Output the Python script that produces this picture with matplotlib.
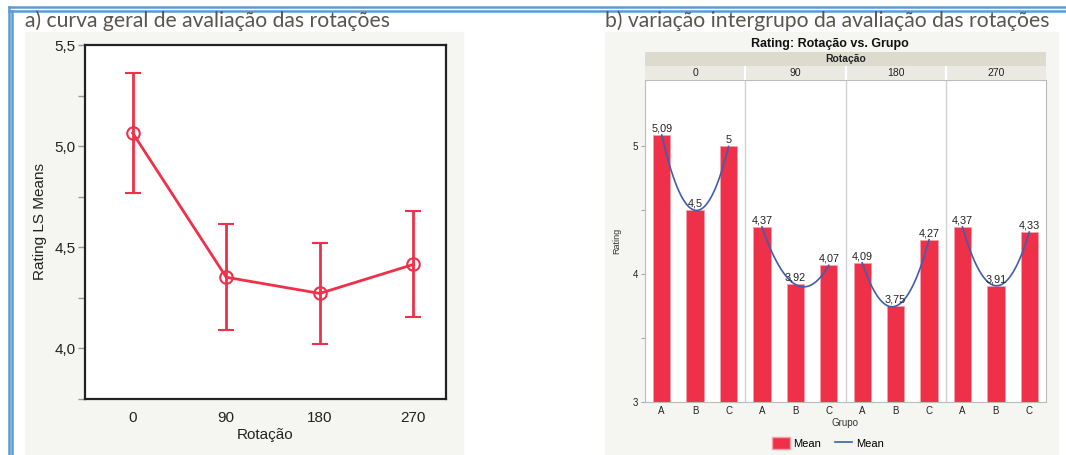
import numpy as np
import matplotlib
matplotlib.use("Agg")
import matplotlib.pyplot as plt
from matplotlib.patches import Rectangle, Patch
from matplotlib.lines import Line2D

# ---------------- data ----------------
rotations = ["0", "90", "180", "270"]
ls_means = [5.065, 4.352, 4.272, 4.415]
ci_half = [0.295, 0.262, 0.250, 0.262]

groups = ["A", "B", "C"]
group_means = {
    "0": [5.09, 4.5, 5.0],
    "90": [4.37, 3.92, 4.07],
    "180": [4.09, 3.75, 4.27],
    "270": [4.37, 3.91, 4.33],
}
group_labels = {
    "0": ["5,09", "4,5", "5"],
    "90": ["4,37", "3,92", "4,07"],
    "180": ["4,09", "3,75", "4,27"],
    "270": ["4,37", "3,91", "4,33"],
}

RED = "#ef3049"
BLUE = "#3d5fae"
BG = "#f5f5f1"
BORDER = "#5b9bd5"
TITLE_C = "#5a5550"
SANS = ["Liberation Sans", "DejaVu Sans"]

W, H = 1066, 455
fig = plt.figure(figsize=(W / 100, H / 100), dpi=100)
fig.patch.set_facecolor("white")

def fx(px):
    return px / W

def fy(py):
    return 1 - py / H

# ---------- outer border ----------
for y in (7, 11):
    fig.add_artist(Line2D([fx(9), 1], [fy(y), fy(y)], color=BORDER, lw=1.8))
for x in (9, 12):
    fig.add_artist(Line2D([fx(x), fx(x)], [fy(7 if x == 9 else 11), 0], color=BORDER, lw=1.8))

# ---------- backgrounds ----------
fig.add_artist(Rectangle((fx(25), 0), fx(463 - 25), fy(32), color=BG, zorder=0))
fig.add_artist(Rectangle((fx(605), 0), fx(1058 - 605), fy(32), color=BG, zorder=0))

tfont = dict(family=["Lato", "DejaVu Sans"], fontsize=15.2, color=TITLE_C)
fig.text(fx(25), fy(21), "a) curva geral de avaliação das rotações", va="center", ha="left", **tfont)
fig.text(fx(605), fy(21), "b) variação intergrupo da avaliação das rotações", va="center", ha="left", **tfont)

# ---------- panel a ----------
axa = fig.add_axes([fx(85), fy(399), fx(446 - 85), (399 - 45) / H])
xa = np.arange(len(rotations))
axa.errorbar(xa, ls_means, yerr=ci_half, color=RED, lw=2, capsize=6, capthick=2,
             marker="o", markersize=9, markerfacecolor="none", markeredgecolor=RED,
             markeredgewidth=1.5, zorder=3)
axa.set_xlim(-0.51, 3.35)
axa.set_ylim(3.75, 5.5)
axa.set_yticks([3.75, 4.0, 4.25, 4.5, 4.75, 5.0, 5.25, 5.5])
axa.set_yticklabels(["", "4,0", "", "4,5", "", "5,0", "", "5,5"])
axa.set_xticks(xa)
axa.set_xticklabels(rotations)
for lab in axa.get_xticklabels() + axa.get_yticklabels():
    lab.set_fontfamily(SANS)
    lab.set_fontsize(11)
    lab.set_color("#222222")
axa.tick_params(axis="y", length=5, color="#999999", width=1, pad=2)
axa.tick_params(axis="x", length=0, pad=9)
for s in axa.spines.values():
    s.set_linewidth(1.6)
    s.set_color("#222222")
axa.set_xlabel("Rotação", fontsize=11, color="#222222", labelpad=2, family=SANS)
axa.set_ylabel("Rating LS Means", fontsize=11, color="#222222", labelpad=5, family=SANS)

# ---------- panel b ----------
L, R = 645, 1046
axb = fig.add_axes([fx(L), fy(402), fx(R - L), (402 - 80) / H])
pos = []
for i, rot in enumerate(rotations):
    p = np.arange(3) + 3 * i
    v = np.array(group_means[rot])
    pos.extend(p)
    axb.bar(p, v - 3, bottom=3, width=0.52, color=RED, edgecolor="#f7a0ab", linewidth=0.6, zorder=2)
    coef = np.polyfit(p, v, 2)
    xs = np.linspace(p[0], p[-1], 60)
    axb.plot(xs, np.polyval(coef, xs), color=BLUE, lw=1.2, zorder=3)
    for pp, vv, lab in zip(p, v, group_labels[rot]):
        axb.text(pp, vv + 0.012, lab, ha="center", va="bottom", fontsize=7.8, color="#222222",
                 family=SANS, zorder=4)
    if i > 0:
        axb.axvline(3 * i - 0.5, color="#d0d0d0", lw=1, zorder=1)

axb.set_xlim(-0.5, 11.5)
axb.set_ylim(3, 5.52)
axb.set_yticks([3, 3.5, 4, 4.5, 5])
axb.set_yticklabels(["3", "", "4", "", "5"])
axb.set_xticks(pos)
axb.set_xticklabels(groups * 4)
for lab in axb.get_xticklabels() + axb.get_yticklabels():
    lab.set_fontfamily(SANS)
    lab.set_fontsize(7)
    lab.set_color("#222222")
axb.tick_params(axis="y", length=3, color="#aaaaaa", width=0.8, pad=2)
axb.tick_params(axis="x", length=0, pad=3)
for s in axb.spines.values():
    s.set_color("#bbbbbb")
    s.set_linewidth(0.8)
axb.set_xlabel("Grupo", fontsize=7, color="#333333", labelpad=1, family=SANS)
axb.set_ylabel("Rating", fontsize=6.5, color="#333333", labelpad=8, family=SANS)

# header bands
band1 = fig.add_axes([fx(L), fy(66), fx(R - L), 14 / H])
band1.set_facecolor("#dddbcd")
band1.set_xticks([]); band1.set_yticks([])
for s in band1.spines.values():
    s.set_visible(False)
band1.text(0.5, 0.5, "Rotação", ha="center", va="center", fontsize=7.5, fontweight="bold",
           family=SANS, color="#222222")

band2 = fig.add_axes([fx(L), fy(80), fx(R - L), 14 / H])
band2.set_xlim(-0.5, 11.5)
band2.set_ylim(0, 1)
band2.set_facecolor("#ebeae2")
band2.set_xticks([]); band2.set_yticks([])
for s in band2.spines.values():
    s.set_visible(False)
for i, rot in enumerate(rotations):
    band2.text(3 * i + 1, 0.5, rot, ha="center", va="center", fontsize=7.5,
               family=SANS, color="#222222")
    if i > 0:
        band2.axvline(3 * i - 0.5, color="white", lw=1.5)

fig.text(fx(830), fy(44), "Rating: Rotação vs. Grupo", ha="center", va="center", fontsize=9,
         fontweight="bold", family=SANS, color="#111111")

handles = [Patch(facecolor=RED, edgecolor="#f7a0ab"), Line2D([0], [0], color=BLUE, lw=1.2)]
fig.legend(handles, ["Mean", "Mean"], loc="center", bbox_to_anchor=(fx(828), fy(443)), ncol=2,
           frameon=False, prop={"family": "Liberation Sans", "size": 8},
           handlelength=1.6, handleheight=1.3, columnspacing=1.2, handletextpad=0.3)

fig.savefig("out.png", dpi=100)
